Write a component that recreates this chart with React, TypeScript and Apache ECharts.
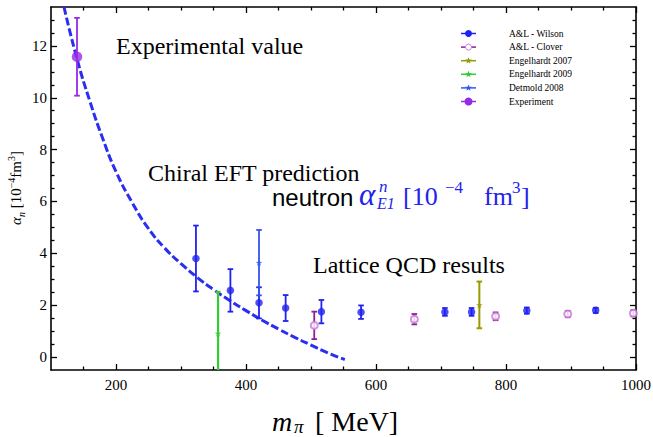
import React, { useEffect, useRef } from 'react';
import * as echarts from 'echarts';

// ---- data ----
const wilsonM = [323, 376, 420, 461, 516, 577, 706, 747, 832, 938];
const wilsonA = [3.8, 2.57, 2.09, 1.89, 1.75, 1.73, 1.74, 1.74, 1.79, 1.8];
const wilsonErr = [1.27, 0.82, 0.6, 0.5, 0.45, 0.26, 0.15, 0.15, 0.12, 0.1];

const cloverM = [505, 659, 784, 895, 996];
const cloverA = [1.22, 1.46, 1.57, 1.66, 1.69];
const cloverErr = [0.53, 0.2, 0.15, 0.12, 0.12];

const eng07M = [759];
const eng07A = [2.01];
const eng07Err = [0.9];

const eng09M = [357];
const eng09A = [0.91];
const eng09Err = [1.6];

const detM = [420];
const detA = [3.64];
const detErr = [1.26];

const expM = [140];
const expA = [11.58];
const expErr = [1.5];

const chiralM = [120, 140, 160, 180, 200, 225, 250, 275, 300, 325, 350, 375, 400, 425, 450, 475, 500, 525, 552];
const chiralA = [13.5, 11.5, 9.85, 8.4, 7.15, 5.95, 4.95, 4.2, 3.6, 3.07, 2.6, 2.18, 1.79, 1.42, 1.08, 0.76, 0.46, 0.17, -0.1];

const xMajor = [200, 400, 600, 800, 1000];
const xMinor = [150, 250, 300, 350, 450, 500, 550, 650, 700, 750, 850, 900, 950];
const yMajor = [0, 2, 4, 6, 8, 10, 12];
const yMinor = [0.5, 1, 1.5, 2.5, 3, 3.5, 4.5, 5, 5.5, 6.5, 7, 7.5, 8.5, 9, 9.5, 10.5, 11, 11.5, 12.5, 13];

const legendNames = ['A&L - Wilson', 'A&L - Clover', 'Engelhardt 2007', 'Engelhardt 2009', 'Detmold 2008', 'Experiment'];

const FONT = '"Liberation Serif", "Times New Roman", serif';
const SANS = '"Liberation Sans", Arial, sans-serif';

const C_WILSON = '#1f22f0';
const C_CLOVER_BAR = '#8f1f8f';
const C_CLOVER_PT = '#c878d8';
const C_ENG07 = '#999900';
const C_ENG09 = '#33cc33';
const C_DET = '#3355ee';
const C_EXP = '#962be6';
const C_CURVE = '#2a2ef2';
const C_LABEL = '#2222ee';

const STAR = 'path://M0,-10L2.35,-3.24L9.51,-3.09L3.8,1.24L5.88,8.09L0,4L-5.88,8.09L-3.8,1.24L-9.51,-3.09L-2.35,-3.24Z';

function errData(m: number[], a: number[], e: number[]) {
  return m.map((x, i) => [x, a[i] - e[i], a[i] + e[i]]);
}
function ptData(m: number[], a: number[]) {
  return m.map((x, i) => [x, a[i]]);
}

function errSeries(name: string, data: number[][], color: string, width: number, cap: number) {
  return {
    type: 'custom',
    name,
    clip: true,
    xAxisIndex: 0,
    yAxisIndex: 0,
    data,
    encode: { x: 0, y: [1, 2] },
    renderItem: (_p: any, api: any) => {
      const x = api.value(0);
      const lo = api.value(1);
      const hi = api.value(2);
      const t = api.coord([x, hi]);
      const b = api.coord([x, lo]);
      const st = { stroke: color, lineWidth: width };
      return {
        type: 'group',
        children: [
          { type: 'line', shape: { x1: t[0], y1: t[1], x2: b[0], y2: b[1] }, style: st },
          { type: 'line', shape: { x1: t[0] - cap, y1: t[1], x2: t[0] + cap, y2: t[1] }, style: st },
          { type: 'line', shape: { x1: b[0] - cap, y1: b[1], x2: b[0] + cap, y2: b[1] }, style: st },
        ],
      };
    },
  };
}

function starPts(cx: number, cy: number, R: number) {
  const pts: number[][] = [];
  for (let i = 0; i < 10; i++) {
    const r = i % 2 === 0 ? R : R * 0.42;
    const ang = -Math.PI / 2 + (i * Math.PI) / 5;
    pts.push([cx + r * Math.cos(ang), cy + r * Math.sin(ang)]);
  }
  return pts;
}

function legendGraphics() {
  const items: any[] = [];
  const colors = [C_WILSON, C_CLOVER_BAR, C_ENG07, C_ENG09, C_DET, C_EXP];
  legendNames.forEach((name, i) => {
    const y = 33.5 + 13.6 * i;
    items.push({ type: 'line', shape: { x1: 461, y1: y, x2: 476, y2: y }, style: { stroke: colors[i], lineWidth: 1.5 } });
    if (i === 0) items.push({ type: 'circle', shape: { cx: 468.5, cy: y, r: 3.5 }, style: { fill: C_WILSON } });
    if (i === 1) items.push({ type: 'circle', shape: { cx: 468.5, cy: y, r: 3 }, style: { fill: '#fff', stroke: C_CLOVER_PT, lineWidth: 1 } });
    if (i === 2 || i === 3 || i === 4) items.push({ type: 'polygon', shape: { points: starPts(468.5, y, 3.5) }, style: { fill: colors[i] } });
    if (i === 5) items.push({ type: 'circle', shape: { cx: 468.5, cy: y, r: 4 }, style: { fill: C_EXP } });
    items.push({
      type: 'text',
      x: 509,
      y,
      style: { text: name, fontFamily: FONT, fontSize: 9.5, fill: '#000', align: 'left', verticalAlign: 'middle' },
    });
  });
  return items;
}

function txt(text: string, x: number, y: number, size: number, opts: any = {}) {
  return {
    type: 'text',
    x,
    y,
    style: {
      text,
      fontFamily: opts.family || FONT,
      fontSize: size,
      fontStyle: opts.italic ? 'italic' : 'normal',
      fill: opts.color || '#000',
      align: 'left',
      verticalAlign: 'middle',
    },
  };
}

const plainFmt = (v: number) => String(v);

function xAxisDef(pos: 'top' | 'bottom', values: number[], len: number, labels: boolean, line: boolean) {
  return {
    type: 'value',
    position: pos,
    min: 100,
    max: 1000,
    axisLine: { show: line, onZero: false, lineStyle: { color: '#000', width: 1.6 } },
    axisTick: { show: true, inside: true, length: len, customValues: values, lineStyle: { color: '#000', width: 1.3 } },
    axisLabel: labels
      ? { show: true, customValues: values, margin: 7, fontFamily: FONT, fontSize: 15, color: '#000', formatter: plainFmt }
      : { show: false },
    splitLine: { show: false },
  };
}
function yAxisDef(pos: 'left' | 'right', values: number[], len: number, labels: boolean, line: boolean) {
  return {
    type: 'value',
    position: pos,
    min: -0.5,
    max: 13.5,
    axisLine: { show: line, onZero: false, lineStyle: { color: '#000', width: 1.6 } },
    axisTick: { show: true, inside: true, length: len, customValues: values, lineStyle: { color: '#000', width: 1.3 } },
    axisLabel: labels
      ? { show: true, customValues: values, margin: 4, fontFamily: FONT, fontSize: 15, color: '#000', formatter: plainFmt }
      : { show: false },
    splitLine: { show: false },
  };
}

export default function App() {
  const ref = useRef<HTMLDivElement>(null);
  useEffect(() => {
    const chart = echarts.init(ref.current!, null, { renderer: 'svg' });
    const option: any = {
      animation: false,
      backgroundColor: '#fff',
      grid: { left: 51, right: 17, top: 7, bottom: 67, containLabel: false, outerBoundsMode: 'none' },
      xAxis: [
        xAxisDef('bottom', xMajor, 6, true, true),
        xAxisDef('bottom', xMinor, 3.5, false, false),
        xAxisDef('top', xMajor, 6, false, true),
        xAxisDef('top', xMinor, 3.5, false, false),
      ],
      yAxis: [
        yAxisDef('left', yMajor, 6, true, true),
        yAxisDef('left', yMinor, 3.5, false, false),
        yAxisDef('right', yMajor, 6, false, true),
        yAxisDef('right', yMinor, 3.5, false, false),
      ],
      series: [
        {
          type: 'line',
          name: 'Chiral EFT',
          data: ptData(chiralM, chiralA),
          smooth: true,
          showSymbol: false,
          clip: true,
          lineStyle: { color: C_CURVE, width: 3, type: [8, 3] },
          z: 1,
        },
        errSeries('Engelhardt 2009 err', errData(eng09M, eng09A, eng09Err), C_ENG09, 2.2, 2.5),
        errSeries('A&L - Wilson err', errData(wilsonM, wilsonA, wilsonErr), C_WILSON, 1.8, 2.8),
        errSeries('Detmold 2008 err', errData(detM, detA, detErr), C_DET, 1.8, 2.8),
        errSeries('A&L - Clover err', errData(cloverM, cloverA, cloverErr), C_CLOVER_BAR, 1.8, 2.8),
        errSeries('Engelhardt 2007 err', errData(eng07M, eng07A, eng07Err), C_ENG07, 2, 2.8),
        errSeries('Experiment err', errData(expM, expA, expErr), C_EXP, 1.8, 2.8),
        {
          type: 'scatter', name: legendNames[0], data: ptData(wilsonM, wilsonA), symbol: 'circle', symbolSize: 7.5,
          itemStyle: { color: C_WILSON },
        },
        {
          type: 'scatter', name: legendNames[1], data: ptData(cloverM, cloverA), symbol: 'emptyCircle', symbolSize: 7,
          itemStyle: { color: C_CLOVER_PT, borderColor: C_CLOVER_PT, borderWidth: 1 },
        },
        {
          type: 'scatter', name: legendNames[2], data: ptData(eng07M, eng07A), symbol: STAR, symbolSize: 6.5,
          itemStyle: { color: C_ENG07 },
        },
        {
          type: 'scatter', name: legendNames[3], data: ptData(eng09M, eng09A), symbol: STAR, symbolSize: 6.5,
          itemStyle: { color: C_ENG09 },
        },
        {
          type: 'scatter', name: legendNames[4], data: ptData(detM, detA), symbol: STAR, symbolSize: 6.5,
          itemStyle: { color: C_DET },
        },
        {
          type: 'scatter', name: legendNames[5], data: ptData(expM, expA), symbol: 'circle', symbolSize: 10.5,
          itemStyle: { color: C_EXP },
        },
      ],
      graphic: [
        ...legendGraphics(),
        txt('Experimental value', 116, 45.8, 24),
        txt('Chiral EFT prediction', 148, 173.2, 24),
        txt('Lattice QCD results', 313, 265, 24),
        txt('neutron', 272, 197.5, 24, { family: SANS }),
        txt('α', 359, 194.5, 31, { italic: true, color: C_LABEL }),
        txt('n', 379, 186, 17, { italic: true, color: C_LABEL }),
        txt('E1', 377, 203, 16, { italic: true, color: C_LABEL }),
        txt('[10', 403, 196.2, 26, { color: C_LABEL }),
        txt('−4', 445, 187.2, 17, { color: C_LABEL }),
        txt('fm', 484, 196.2, 26, { color: C_LABEL }),
        txt('3', 512, 187.2, 17, { color: C_LABEL }),
        txt(']', 521, 196.2, 26, { color: C_LABEL }),
        txt('m', 272, 421, 28, { italic: true }),
        txt('π', 294, 426.5, 19, { italic: true }),
        txt('[ MeV]', 315, 421, 28),
        {
          type: 'text',
          x: 16,
          y: 188,
          rotation: Math.PI / 2,
          style: {
            text: '{a|α}{s|n}{b| [10}{p|−4}{b|fm}{p|3}{b|]}',
            align: 'center',
            verticalAlign: 'middle',
            fill: '#000',
            rich: {
              a: { fontFamily: FONT, fontStyle: 'italic', fontSize: 15, lineHeight: 20, verticalAlign: 'middle' },
              s: { fontFamily: FONT, fontStyle: 'italic', fontSize: 10, lineHeight: 20, verticalAlign: 'bottom' },
              b: { fontFamily: FONT, fontSize: 15, lineHeight: 20, verticalAlign: 'middle' },
              p: { fontFamily: FONT, fontSize: 10, lineHeight: 20, verticalAlign: 'top' },
            },
          },
        },
      ],
    };
    chart.setOption(option);
    return () => chart.dispose();
  }, []);
  return <div ref={ref} style={{ position: 'fixed', left: 0, top: 0, width: 653, height: 437, background: '#fff' }} />;
}
